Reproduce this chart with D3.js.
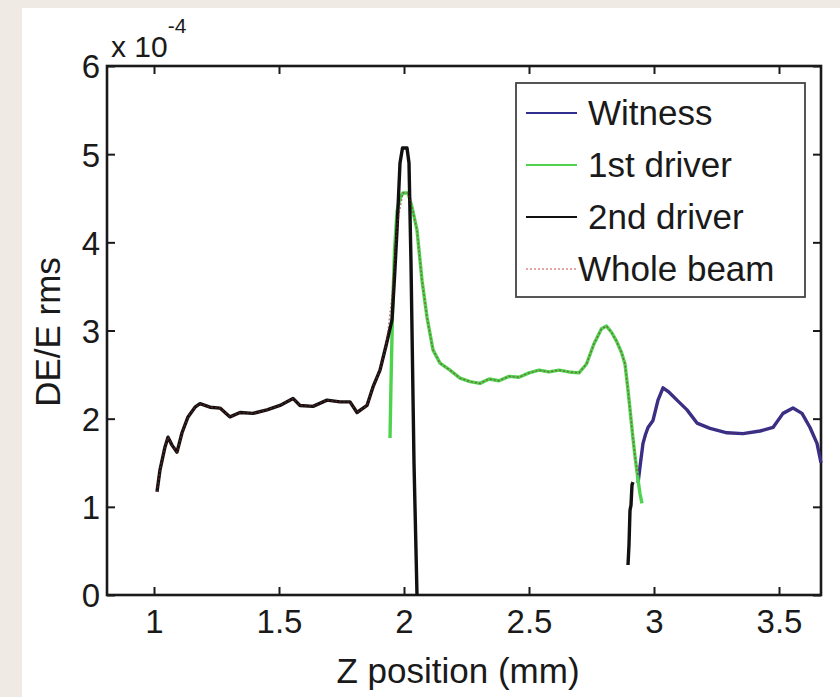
<!DOCTYPE html>
<html>
<head>
<meta charset="utf-8">
<script src="https://cdn.jsdelivr.net/npm/d3@7/dist/d3.min.js"></script>
<style>
  html, body { margin: 0; padding: 0; background: #efebe4; }
  svg { display: block; }
  text { font-family: "Liberation Sans", Arial, Helvetica, sans-serif; fill: #1a1a1a; }
</style>
</head>
<body>
<svg id="chart" width="840" height="697"></svg>
<script>
// ---------- data (DE/E rms in units of 1e-4) ----------
const witnessZ = [2.936, 2.946, 2.956, 2.966, 2.976, 2.996, 3.016, 3.036, 3.06, 3.092, 3.132, 3.172, 3.224, 3.292, 3.356, 3.424, 3.476, 3.516, 3.556, 3.592, 3.624, 3.652, 3.668];
const witnessV = [1.27, 1.5, 1.72, 1.82, 1.9, 1.98, 2.21, 2.35, 2.3, 2.21, 2.1, 1.95, 1.89, 1.84, 1.83, 1.86, 1.9, 2.06, 2.12, 2.06, 1.9, 1.72, 1.5];

const driver1Z = [1.944, 1.948, 1.954, 1.962, 1.972, 1.984, 1.996, 2.016, 2.032, 2.052, 2.072, 2.092, 2.116, 2.144, 2.184, 2.224, 2.264, 2.304, 2.34, 2.38, 2.42, 2.46, 2.5, 2.54, 2.58, 2.62, 2.66, 2.7, 2.73, 2.76, 2.79, 2.81, 2.83, 2.85, 2.87, 2.884, 2.895, 2.905, 2.915, 2.925, 2.935, 2.944, 2.952];
const driver1V = [1.78, 2.4, 3.2, 3.9, 4.35, 4.5, 4.56, 4.56, 4.4, 4.14, 3.57, 3.15, 2.78, 2.63, 2.55, 2.46, 2.42, 2.4, 2.45, 2.43, 2.48, 2.47, 2.52, 2.55, 2.53, 2.55, 2.53, 2.52, 2.62, 2.85, 3.02, 3.05, 2.98, 2.88, 2.75, 2.62, 2.35, 2.08, 1.8, 1.55, 1.33, 1.15, 1.04];

const driver2Z = [1.012, 1.024, 1.044, 1.056, 1.072, 1.092, 1.112, 1.136, 1.164, 1.184, 1.224, 1.264, 1.304, 1.344, 1.396, 1.452, 1.504, 1.556, 1.584, 1.636, 1.692, 1.744, 1.784, 1.812, 1.852, 1.876, 1.904, 1.93, 1.952, 1.962, 1.972, 1.984, 1.994, 2.012, 2.02, 2.028, 2.04, 2.052];
const driver2V = [1.17, 1.42, 1.68, 1.79, 1.7, 1.62, 1.84, 2.02, 2.13, 2.17, 2.13, 2.12, 2.02, 2.07, 2.06, 2.1, 2.15, 2.23, 2.15, 2.14, 2.21, 2.19, 2.19, 2.07, 2.15, 2.36, 2.55, 2.85, 3.12, 3.6, 4.14, 4.9, 5.07, 5.07, 4.9, 3.76, 1.5, 0.0];
const driver2bZ = [2.896, 2.9, 2.904, 2.908, 2.912, 2.916];
const driver2bV = [0.34, 0.57, 0.96, 1.02, 1.25, 1.28];

const wholeZ = [1.012, 1.024, 1.044, 1.056, 1.072, 1.092, 1.112, 1.136, 1.164, 1.184, 1.224, 1.264, 1.304, 1.344, 1.396, 1.452, 1.504, 1.556, 1.584, 1.636, 1.692, 1.744, 1.784, 1.812, 1.852, 1.876, 1.904, 1.93, 1.952, 1.972, 1.996, 2.016, 2.032, 2.052, 2.072, 2.092, 2.116, 2.144, 2.184, 2.224, 2.264, 2.304, 2.34, 2.38, 2.42, 2.46, 2.5, 2.54, 2.58, 2.62, 2.66, 2.7, 2.73, 2.76, 2.79, 2.81, 2.83, 2.85, 2.87, 2.884, 2.895, 2.905, 2.915, 2.925, 2.936, 2.956, 2.976, 2.996, 3.016, 3.036, 3.06, 3.092, 3.132, 3.172, 3.224, 3.292, 3.356, 3.424, 3.476, 3.516, 3.556, 3.592, 3.624, 3.652, 3.668];
const wholeV = [1.17, 1.42, 1.68, 1.79, 1.7, 1.62, 1.84, 2.02, 2.13, 2.17, 2.13, 2.12, 2.02, 2.07, 2.06, 2.1, 2.15, 2.23, 2.15, 2.14, 2.21, 2.19, 2.19, 2.07, 2.15, 2.36, 2.55, 2.85, 3.4, 4.2, 4.56, 4.56, 4.4, 4.14, 3.57, 3.15, 2.78, 2.63, 2.55, 2.46, 2.42, 2.4, 2.45, 2.43, 2.48, 2.47, 2.52, 2.55, 2.53, 2.55, 2.53, 2.52, 2.62, 2.85, 3.02, 3.05, 2.98, 2.88, 2.75, 2.62, 2.35, 2.08, 1.8, 1.55, 1.35, 1.72, 1.9, 1.98, 2.21, 2.35, 2.3, 2.21, 2.1, 1.95, 1.89, 1.84, 1.83, 1.86, 1.9, 2.06, 2.12, 2.06, 1.9, 1.72, 1.5];

const xTicks = [1, 1.5, 2, 2.5, 3, 3.5];
const xTickLabels = ["1", "1.5", "2", "2.5", "3", "3.5"];
const yTicks = [0, 1, 2, 3, 4, 5, 6];
const yTickLabels = ["0", "1", "2", "3", "4", "5", "6"];
const legendNames = ["Witness", "1st driver", "2nd driver", "Whole beam"];
const legendColors = ["#2f2f92", "#4fd34f", "#111111", "#e08a8a"];

// ---------- layout ----------
const svg = d3.select("#chart");
svg.append("rect").attr("x", 0).attr("y", 0).attr("width", 840).attr("height", 697).attr("fill", "#efebe4");
svg.append("rect").attr("x", 22).attr("y", 8).attr("width", 818).attr("height", 689).attr("fill", "#ffffff");

const L = 107, R = 821, T = 66, B = 595;
const x = d3.scaleLinear().domain([0.812, 3.668]).range([L, R]);
const y = d3.scaleLinear().domain([0, 6]).range([B, T]);

// axes box
const axisCol = "#1a1a1a";
const gAx = svg.append("g");
const xb = gAx.append("g").attr("transform", `translate(0,${B})`)
  .call(d3.axisBottom(x).tickValues(xTicks).tickFormat((d, i) => xTickLabels[i]).tickSize(-8).tickPadding(15));
const xt = gAx.append("g").attr("transform", `translate(0,${T})`)
  .call(d3.axisTop(x).tickValues(xTicks).tickFormat("").tickSize(-8));
const yl = gAx.append("g").attr("transform", `translate(${L},0)`)
  .call(d3.axisLeft(y).tickValues(yTicks).tickFormat((d, i) => yTickLabels[i]).tickSize(-8).tickPadding(7));
const yr = gAx.append("g").attr("transform", `translate(${R},0)`)
  .call(d3.axisRight(y).tickValues(yTicks).tickFormat("").tickSize(-8));
gAx.selectAll(".domain").remove();
gAx.selectAll(".tick line").attr("stroke", axisCol).attr("stroke-width", 2);
gAx.selectAll(".tick text").attr("fill", "#1a1a1a").style("font-size", "33px").style("font-family", "Liberation Sans, Arial, sans-serif");
xb.selectAll(".tick text").attr("dy", "0.71em");
yl.selectAll(".tick text").attr("dy", "0.36em");
gAx.append("rect").attr("x", L).attr("y", T).attr("width", R - L).attr("height", B - T)
  .attr("fill", "none").attr("stroke", axisCol).attr("stroke-width", 2.6);

// exponent label
const ex = svg.append("text").attr("x", 111).attr("y", 57).style("font-size", "30px");
ex.append("tspan").text("x 10");
ex.append("tspan").attr("dy", -24).style("font-size", "21px").text("-4");

// axis titles
svg.append("text").attr("x", 458).attr("y", 683).attr("text-anchor", "middle")
  .style("font-size", "35px").text("Z position (mm)");
svg.append("text").attr("transform", "translate(60,332) rotate(-90)").attr("text-anchor", "middle")
  .style("font-size", "35px").text("DE/E rms");

// ---------- lines ----------
const line = d3.line().x(d => x(d[0])).y(d => y(d[1]));
const zip = (a, b) => a.map((v, i) => [v, b[i]]);
const plot = svg.append("g");
const lw = 3.4;
plot.append("path").datum(zip(witnessZ, witnessV)).attr("d", line)
  .attr("fill", "none").attr("stroke", legendColors[0]).attr("stroke-width", lw).attr("stroke-linejoin", "round");
plot.append("path").datum(zip(driver1Z, driver1V)).attr("d", line)
  .attr("fill", "none").attr("stroke", legendColors[1]).attr("stroke-width", lw).attr("stroke-linejoin", "round");
plot.append("path").datum(zip(driver2Z, driver2V)).attr("d", line)
  .attr("fill", "none").attr("stroke", legendColors[2]).attr("stroke-width", lw).attr("stroke-linejoin", "round");
plot.append("path").datum(zip(driver2bZ, driver2bV)).attr("d", line)
  .attr("fill", "none").attr("stroke", legendColors[2]).attr("stroke-width", lw).attr("stroke-linejoin", "round");
plot.append("path").datum(zip(wholeZ, wholeV)).attr("d", line)
  .attr("fill", "none").attr("stroke", "#8a2a2a").attr("stroke-width", 1.4).attr("stroke-dasharray", "2,2").attr("opacity", 0.6);

// ---------- legend ----------
const lg = svg.append("g");
lg.append("rect").attr("x", 516).attr("y", 83).attr("width", 289).attr("height", 214)
  .attr("fill", "#ffffff").attr("stroke", "#444").attr("stroke-width", 1.8);
legendNames.forEach((name, i) => {
  const cy = 113 + i * 52;
  const ln = lg.append("line").attr("x1", 526).attr("x2", 577).attr("y1", cy).attr("y2", cy)
    .attr("stroke", legendColors[i]).attr("stroke-width", i === 3 ? 1.5 : 2.2);
  if (i === 3) ln.attr("stroke-dasharray", "2,2");
  lg.append("text").attr("x", i === 3 ? 578 : 588).attr("y", cy + 12).style("font-size", "35px").text(name);
});
</script>
</body>
</html>
